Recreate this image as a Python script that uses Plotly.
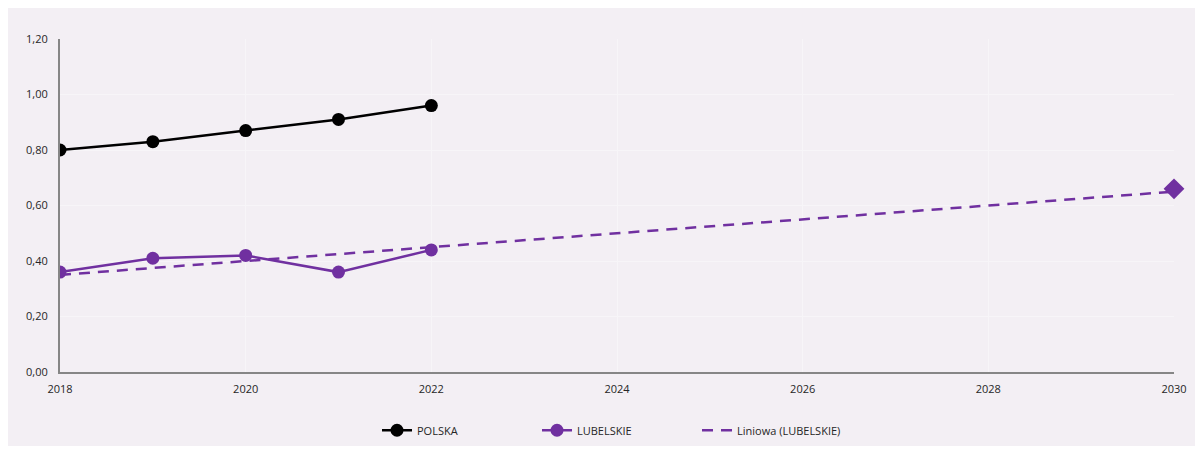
import plotly.graph_objects as go

years = [2018, 2019, 2020, 2021, 2022]
polska = [0.80, 0.83, 0.87, 0.91, 0.96]
lubelskie = [0.36, 0.41, 0.42, 0.36, 0.44]

trend_years = [2018, 2030]
trend_vals = [0.35, 0.65]

target_year = [2030]
target_val = [0.66]

purple = "#7030A0"
bg = "#F3EFF4"

fig = go.Figure()

fig.add_trace(go.Scatter(
    x=years, y=polska, name="POLSKA", mode="lines+markers",
    line=dict(color="black", width=2.5),
    marker=dict(color="black", size=13),
))
fig.add_trace(go.Scatter(
    x=years, y=lubelskie, name="LUBELSKIE", mode="lines+markers",
    line=dict(color=purple, width=2.5),
    marker=dict(color=purple, size=13),
))
fig.add_trace(go.Scatter(
    x=trend_years, y=trend_vals, name="Liniowa (LUBELSKIE)", mode="lines",
    line=dict(color=purple, width=2.5, dash="11px,8px"),
))
fig.add_trace(go.Scatter(
    x=target_year, y=target_val, mode="markers", showlegend=False,
    marker=dict(color=purple, size=16, symbol="diamond"),
    cliponaxis=False,
))

fig.update_layout(
    width=1187, height=438,
    margin=dict(l=52, r=21, t=31, b=74, autoexpand=False),
    paper_bgcolor=bg, plot_bgcolor=bg,
    font=dict(family="Open Sans, Liberation Sans, sans-serif", size=11, color="#404040"),
    separators=", ",
    legend=dict(
        orientation="h", x=0.5, xanchor="center", y=-0.175, yanchor="middle",
        font=dict(size=11, color="#262626"),
        entrywidth=115, entrywidthmode="pixels",
        bgcolor="rgba(0,0,0,0)",
    ),
)
fig.update_xaxes(
    range=[2018, 2030], tickvals=list(range(2018, 2031, 2)),
    showline=True, linecolor="#868686", linewidth=2,
    showgrid=True, gridcolor="#F7F5F8", zeroline=False,
    ticklabelstandoff=6, tickfont=dict(size=11, color="#262626"),
)
fig.update_yaxes(
    range=[0, 1.2], tickvals=[0, 0.2, 0.4, 0.6, 0.8, 1.0, 1.2], tickformat=".2f",
    showline=True, linecolor="#868686", linewidth=2,
    showgrid=True, gridcolor="#F7F5F8", zeroline=False,
    ticklabelstandoff=8, tickfont=dict(size=11, color="#262626"),
)

fig.write_html("out.html")
